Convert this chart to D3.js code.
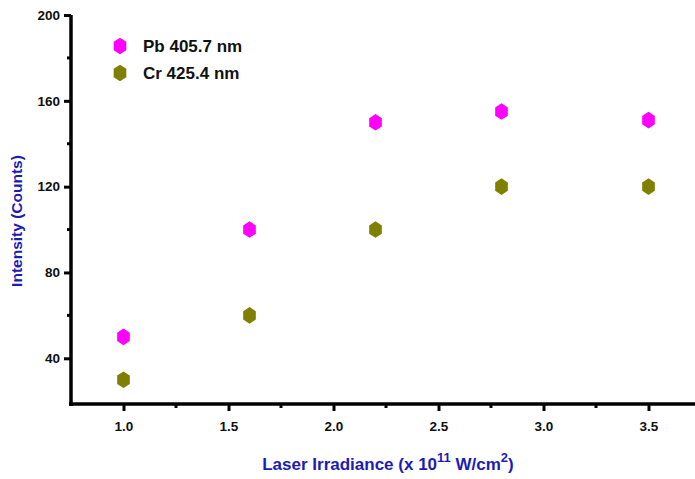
<!DOCTYPE html>
<html>
<head>
<meta charset="utf-8">
<script src="https://cdn.jsdelivr.net/npm/d3@7"></script>
<style>
  html, body { margin: 0; padding: 0; background: #fff; }
  svg { display: block; font-family: Arial, "Liberation Sans", sans-serif; }
</style>
</head>
<body>
<svg id="chart" width="695" height="479"></svg>
<script>
// Laser irradiance (x 10^11 W/cm^2)
const irradiance = [1.0, 1.6, 2.2, 2.8, 3.5];
// Emission line intensities (counts)
const pbIntensity = [50, 100, 150, 155, 151];
const crIntensity = [30, 60, 100, 120, 120];
const seriesNames = ["Pb 405.7 nm", "Cr 425.4 nm"];
const seriesColors = ["#ff00ff", "#808000"];
const xTicks = [1.0, 1.5, 2.0, 2.5, 3.0, 3.5];
const yTicks = [40, 80, 120, 160, 200];

const svg = d3.select("#chart");

const x = d3.scaleLinear().domain([0.75, 3.75]).range([71, 701]);
const y = d3.scaleLinear().domain([18.7, 200]).range([404, 15]);

// Hexagon symbol, pointy top
function hexPath(r) {
  const pts = d3.range(6).map(i => {
    const a = Math.PI / 3 * i - Math.PI / 2;
    return [Math.cos(a) * r * 0.88, Math.sin(a) * r];
  });
  return d3.line()(pts) + "Z";
}
const hex = hexPath(8.3);

// Axes
const xAxis = d3.axisBottom(x).tickValues(xTicks).tickFormat(d3.format(".1f")).tickSize(7).tickPadding(10);
const yAxis = d3.axisLeft(y).tickValues(yTicks).tickFormat(d3.format("d")).tickSize(7).tickPadding(4);

const gx = svg.append("g").attr("transform", `translate(0,${y.range()[0]})`).call(xAxis);
const gy = svg.append("g").attr("transform", `translate(${x.range()[0]},0)`).call(yAxis);

// Minor ticks
const xMinor = d3.range(1.25, 3.75, 0.5);
gx.selectAll(".minor").data(xMinor).enter().append("line")
  .attr("class", "minor")
  .attr("x1", d => x(d)).attr("x2", d => x(d))
  .attr("y1", 0).attr("y2", 4)
  .attr("stroke", "#000").attr("stroke-width", 3);
const yMinor = [60, 100, 140, 180];
gy.selectAll(".minor").data(yMinor).enter().append("line")
  .attr("class", "minor")
  .attr("y1", d => y(d)).attr("y2", d => y(d))
  .attr("x1", 0).attr("x2", -4)
  .attr("stroke", "#000").attr("stroke-width", 3);

[gx, gy].forEach(g => {
  g.select(".domain").attr("stroke", "#000").attr("stroke-width", 3.5);
  g.selectAll(".tick line").attr("stroke", "#000").attr("stroke-width", 3);
  g.selectAll(".tick text").attr("fill", "#111").attr("font-size", 13.5).attr("font-weight", "bold");
});
gy.select(".domain").attr("d", `M0,${y.range()[0] + 2}V${y.range()[1]}`);
gx.select(".domain").attr("d", `M${x.range()[0] - 2},0H${x.range()[1]}`);

// Axis titles
svg.append("text")
  .attr("transform", "translate(22,221) rotate(-90)")
  .attr("text-anchor", "middle")
  .attr("fill", "#1c1cb4")
  .attr("font-size", 15.5)
  .attr("font-weight", "bold")
  .text("Intensity (Counts)");

const xt = svg.append("text")
  .attr("x", 388).attr("y", 470)
  .attr("text-anchor", "middle")
  .attr("fill", "#1c1cb4")
  .attr("font-size", 17)
  .attr("font-weight", "bold");
xt.append("tspan").text("Laser Irradiance (x 10");
xt.append("tspan").attr("font-size", 13).attr("dy", -8).text("11");
xt.append("tspan").attr("dy", 8).text(" W/cm");
xt.append("tspan").attr("font-size", 13).attr("dy", -8).text("2");
xt.append("tspan").attr("dy", 8).text(")");

// Data points
const series = [pbIntensity, crIntensity];
series.forEach((vals, s) => {
  svg.append("g").selectAll("path").data(irradiance.map((d, i) => [d, vals[i]]))
    .enter().append("path")
    .attr("d", hex)
    .attr("transform", d => `translate(${x(d[0])},${y(d[1])})`)
    .attr("fill", seriesColors[s]);
});

// Legend
const legend = svg.append("g");
seriesNames.forEach((name, i) => {
  const cy = 46 + i * 27;
  legend.append("path").attr("d", hex)
    .attr("transform", `translate(120,${cy})`)
    .attr("fill", seriesColors[i]);
  legend.append("text")
    .attr("x", 143).attr("y", cy + 6)
    .attr("font-size", 17).attr("font-weight", "bold")
    .attr("fill", "#111")
    .text(name);
});
</script>
</body>
</html>
